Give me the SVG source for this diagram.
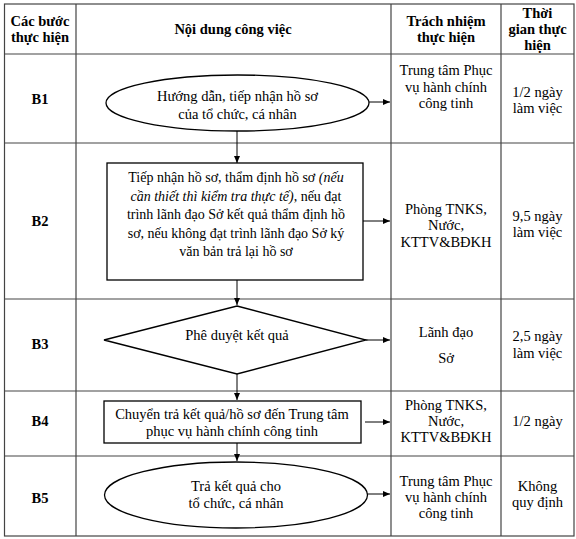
<svg xmlns="http://www.w3.org/2000/svg" width="576" height="539" viewBox="0 0 576 539">
<style>
text{font-family:"Liberation Serif","Times New Roman",serif;font-size:14.5px;fill:#000;text-anchor:middle}
.b{font-weight:bold}
.i{font-style:italic}
.s{font-size:14px}
.grid{stroke:#444;stroke-width:1.2;fill:none}
.shape{stroke:#000;stroke-width:1.3;fill:#fff}
.conn{stroke:#000;stroke-width:1;fill:none}
</style>
<defs>
<marker id="ah" markerWidth="8" markerHeight="8" refX="7" refY="4" orient="auto" markerUnits="userSpaceOnUse">
<path d="M0,1 L7,4 L0,7 Z" fill="#000"/>
</marker>
</defs>
<rect width="576" height="539" fill="#fff"/>
<g id="table">
<rect class="grid" x="4.5" y="4" width="569.5" height="532"/>
<line class="grid" x1="76" y1="4" x2="76" y2="536"/>
<line class="grid" x1="391" y1="4" x2="391" y2="536"/>
<line class="grid" x1="501" y1="4" x2="501" y2="536"/>
<line class="grid" x1="4.5" y1="54" x2="574" y2="54"/>
<line class="grid" x1="4.5" y1="143" x2="574" y2="143"/>
<line class="grid" x1="4.5" y1="299" x2="574" y2="299"/>
<line class="grid" x1="4.5" y1="391" x2="574" y2="391"/>
<line class="grid" x1="4.5" y1="456" x2="574" y2="456"/>
</g>
<g id="header">
<text class="b" x="40" y="26">Các bước</text>
<text class="b" x="40" y="42">thực hiện</text>
<text class="b" x="233" y="34">Nội dung công việc</text>
<text class="b" x="446" y="26">Trách nhiệm</text>
<text class="b" x="446" y="42">thực hiện</text>
<text class="b" x="537.5" y="18">Thời</text>
<text class="b" x="537.5" y="34">gian thực</text>
<text class="b" x="537.5" y="50">hiện</text>
</g>
<g id="steps">
<text class="b" x="40" y="104">B1</text>
<text class="b" x="40" y="226">B2</text>
<text class="b" x="40" y="349">B3</text>
<text class="b" x="40" y="426">B4</text>
<text class="b" x="40" y="503">B5</text>
</g>
<g id="resp">
<text x="446" y="75">Trung tâm Phục</text>
<text x="446" y="91.5">vụ hành chính</text>
<text x="446" y="108">công tinh</text>
<text x="446" y="214">Phòng TNKS,</text>
<text x="446" y="230">Nước,</text>
<text x="446" y="247">KTTV&amp;BĐKH</text>
<text x="446" y="337">Lãnh đạo</text>
<text x="446" y="363">Sở</text>
<text x="446" y="410">Phòng TNKS,</text>
<text x="446" y="426">Nước,</text>
<text x="446" y="442">KTTV&amp;BĐKH</text>
<text x="446" y="486">Trung tâm Phục</text>
<text x="446" y="502">vụ hành chính</text>
<text x="446" y="518">công tinh</text>
</g>
<g id="time">
<text x="537.5" y="97">1/2 ngày</text>
<text x="537.5" y="113">làm việc</text>
<text x="537.5" y="221">9,5 ngày</text>
<text x="537.5" y="237">làm việc</text>
<text x="537.5" y="341">2,5 ngày</text>
<text x="537.5" y="358">làm việc</text>
<text x="537.5" y="426">1/2 ngày</text>
<text x="537.5" y="491">Không</text>
<text x="537.5" y="507">quy định</text>
</g>
<g id="connectors">
<line class="conn" x1="237" y1="131" x2="237" y2="163" marker-end="url(#ah)"/>
<line class="conn" x1="237" y1="280" x2="237" y2="305" marker-end="url(#ah)"/>
<line class="conn" x1="237" y1="374" x2="237" y2="400" marker-end="url(#ah)"/>
<line class="conn" x1="237" y1="443" x2="237" y2="461" marker-end="url(#ah)"/>
<line class="conn" x1="369" y1="102" x2="390" y2="102" marker-end="url(#ah)"/>
<line class="conn" x1="363" y1="221" x2="390" y2="221" marker-end="url(#ah)"/>
<line class="conn" x1="366" y1="340" x2="390" y2="340" marker-end="url(#ah)"/>
<line class="conn" x1="365" y1="422" x2="390" y2="422" marker-end="url(#ah)"/>
<line class="conn" x1="367" y1="494" x2="390" y2="494" marker-end="url(#ah)"/>
</g>
<g id="n1">
<ellipse class="shape" cx="237.5" cy="103" rx="131.5" ry="28"/>
<text x="237.5" y="101">Hướng dẫn, tiếp nhận hồ sơ</text>
<text x="237.5" y="119">của tổ chức, cá nhân</text>
</g>
<g id="n2">
<rect class="shape" x="107" y="163" width="256" height="117"/>
<text class="s" x="236" y="182">Tiếp nhận hồ sơ, thẩm định hồ sơ <tspan class="i">(nếu</tspan></text>
<text class="s" x="236" y="200.5"><tspan class="i">cần thiết thì kiểm tra thực tế)</tspan>, nếu đạt</text>
<text class="s" x="236" y="219">trình lãnh đạo Sở kết quả thẩm định hồ</text>
<text class="s" x="236" y="237.5">sơ, nếu không đạt trình lãnh đạo Sở ký</text>
<text class="s" x="236" y="256">văn bản trả lại hồ sơ</text>
</g>
<g id="n3">
<polygon class="shape" points="237,306 366,340 237,374 104,340"/>
<text x="237" y="340">Phê duyệt kết quả</text>
</g>
<g id="n4">
<rect class="shape" x="104" y="401" width="257" height="42"/>
<text x="232" y="419">Chuyển trả kết quả/hồ sơ đến Trung tâm</text>
<text x="232" y="436">phục vụ hành chính công tinh</text>
</g>
<g id="n5">
<ellipse class="shape" cx="236" cy="495" rx="131.5" ry="33"/>
<text x="236" y="491">Trả kết quả cho</text>
<text x="236" y="508">tổ chức, cá nhân</text>
</g>
</svg>
